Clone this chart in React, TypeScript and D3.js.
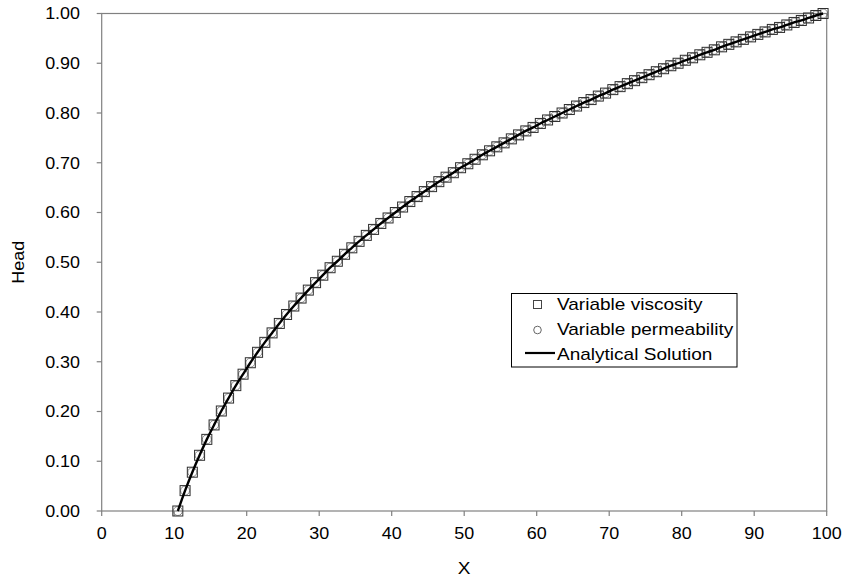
import React from 'react';
import * as d3 from 'd3';

// x of the model cells (cell centres)
const xNodes = [
  10.5, 11.5, 12.5, 13.5, 14.5, 15.5, 16.5, 17.5, 18.5, 19.5,
  20.5, 21.5, 22.5, 23.5, 24.5, 25.5, 26.5, 27.5, 28.5, 29.5,
  30.5, 31.5, 32.5, 33.5, 34.5, 35.5, 36.5, 37.5, 38.5, 39.5,
  40.5, 41.5, 42.5, 43.5, 44.5, 45.5, 46.5, 47.5, 48.5, 49.5,
  50.5, 51.5, 52.5, 53.5, 54.5, 55.5, 56.5, 57.5, 58.5, 59.5,
  60.5, 61.5, 62.5, 63.5, 64.5, 65.5, 66.5, 67.5, 68.5, 69.5,
  70.5, 71.5, 72.5, 73.5, 74.5, 75.5, 76.5, 77.5, 78.5, 79.5,
  80.5, 81.5, 82.5, 83.5, 84.5, 85.5, 86.5, 87.5, 88.5, 89.5,
  90.5, 91.5, 92.5, 93.5, 94.5, 95.5, 96.5, 97.5, 98.5, 99.5,
];

// head, variable viscosity (squares)
const headViscosity = [
  0.000, 0.041, 0.078, 0.112, 0.144, 0.173, 0.201, 0.227, 0.252, 0.275,
  0.298, 0.319, 0.339, 0.358, 0.377, 0.395, 0.412, 0.428, 0.444, 0.459,
  0.474, 0.489, 0.502, 0.516, 0.529, 0.542, 0.554, 0.566, 0.578, 0.589,
  0.600, 0.611, 0.622, 0.632, 0.642, 0.652, 0.662, 0.671, 0.680, 0.690,
  0.698, 0.707, 0.716, 0.724, 0.732, 0.740, 0.748, 0.756, 0.764, 0.771,
  0.779, 0.786, 0.793, 0.800, 0.807, 0.814, 0.821, 0.827, 0.834, 0.840,
  0.847, 0.853, 0.859, 0.865, 0.871, 0.877, 0.883, 0.889, 0.895, 0.900,
  0.906, 0.911, 0.917, 0.922, 0.927, 0.933, 0.938, 0.943, 0.948, 0.953,
  0.958, 0.963, 0.968, 0.972, 0.977, 0.982, 0.986, 0.991, 0.996, 1.000,
];

// head, variable permeability (circles)
const headPermeability = [
  0.000, 0.041, 0.078, 0.112, 0.144, 0.173, 0.201, 0.227, 0.252, 0.275,
  0.298, 0.319, 0.339, 0.358, 0.377, 0.395, 0.412, 0.428, 0.444, 0.459,
  0.474, 0.489, 0.502, 0.516, 0.529, 0.542, 0.554, 0.566, 0.578, 0.589,
  0.600, 0.611, 0.622, 0.632, 0.642, 0.652, 0.662, 0.671, 0.680, 0.690,
  0.698, 0.707, 0.716, 0.724, 0.732, 0.740, 0.748, 0.756, 0.764, 0.771,
  0.779, 0.786, 0.793, 0.800, 0.807, 0.814, 0.821, 0.827, 0.834, 0.840,
  0.847, 0.853, 0.859, 0.865, 0.871, 0.877, 0.883, 0.889, 0.895, 0.900,
  0.906, 0.911, 0.917, 0.922, 0.927, 0.933, 0.938, 0.943, 0.948, 0.953,
  0.958, 0.963, 0.968, 0.972, 0.977, 0.982, 0.986, 0.991, 0.996, 1.000,
];

// analytical solution at the same cells
const headAnalytical = [
  0.000, 0.041, 0.078, 0.112, 0.144, 0.173, 0.201, 0.227, 0.252, 0.275,
  0.298, 0.319, 0.339, 0.358, 0.377, 0.395, 0.412, 0.428, 0.444, 0.459,
  0.474, 0.489, 0.502, 0.516, 0.529, 0.542, 0.554, 0.566, 0.578, 0.589,
  0.600, 0.611, 0.622, 0.632, 0.642, 0.652, 0.662, 0.671, 0.680, 0.690,
  0.698, 0.707, 0.716, 0.724, 0.732, 0.740, 0.748, 0.756, 0.764, 0.771,
  0.779, 0.786, 0.793, 0.800, 0.807, 0.814, 0.821, 0.827, 0.834, 0.840,
  0.847, 0.853, 0.859, 0.865, 0.871, 0.877, 0.883, 0.889, 0.895, 0.900,
  0.906, 0.911, 0.917, 0.922, 0.927, 0.933, 0.938, 0.943, 0.948, 0.953,
  0.958, 0.963, 0.968, 0.972, 0.977, 0.982, 0.986, 0.991, 0.996, 1.000,
];

const xTicks = [0, 10, 20, 30, 40, 50, 60, 70, 80, 90, 100];
const yTicks = [0, 0.1, 0.2, 0.3, 0.4, 0.5, 0.6, 0.7, 0.8, 0.9, 1.0];
const legendLabels = ['Variable viscosity', 'Variable permeability', 'Analytical Solution'];

const W = 843, H = 578;
const m = { left: 101.7, right: 16.3, top: 13.5, bottom: 67 };
const font = '"Liberation Sans", Arial, sans-serif';
const axisGray = '#808080';
const sx = 1.12; // the original lettering is a little wide

export default function App() {
  const x = d3.scaleLinear().domain([0, 100]).range([m.left, W - m.right]);
  const y = d3.scaleLinear().domain([0, 1]).range([H - m.bottom, m.top]);

  const line = d3.line<number>()
    .x((d, i) => x(xNodes[i]))
    .y(d => y(d))
    .curve(d3.curveMonotoneX);

  const sq = 10;
  const lx = 511.5, ly = 293.5;

  return (
    <svg width={W} height={H} style={{ position: 'absolute', left: 0, top: 0, background: '#fff' }}
      fontFamily={font}>
      {/* frame */}
      <rect x={x(0)} y={y(1)} width={x(100) - x(0)} height={y(0) - y(1)}
        fill="none" stroke={axisGray} strokeWidth={1.2} />
      {yTicks.map(t => (
        <g key={'y' + t}>
          <line x1={x(0) - 5} x2={x(0)} y1={y(t)} y2={y(t)} stroke={axisGray} strokeWidth={1.2} />
          <text transform={`translate(80,${y(t)}) scale(${sx},1)`} dy="0.36em" textAnchor="end" fontSize={16}>
            {d3.format('.2f')(t)}
          </text>
        </g>
      ))}
      {xTicks.map(t => (
        <g key={'x' + t}>
          <line x1={x(t)} x2={x(t)} y1={y(0)} y2={y(0) + 5} stroke={axisGray} strokeWidth={1.2} />
          <text transform={`translate(${x(t)},${y(0) + 28}) scale(${sx},1)`} textAnchor="middle" fontSize={16}>{t}</text>
        </g>
      ))}
      <text transform={`translate(${(x(0) + x(100)) / 2},574) scale(${sx},1)`} textAnchor="middle" fontSize={17}>X</text>
      <text transform={`translate(24,${(y(0) + y(1)) / 2}) rotate(-90) scale(${sx},1)`} textAnchor="middle" fontSize={16}>Head</text>

      {headPermeability.map((v, i) => (
        <circle key={'c' + i} cx={x(xNodes[i])} cy={y(v)} r={4.5}
          fill="none" stroke="#8c8c8c" strokeWidth={1} />
      ))}
      {headViscosity.map((v, i) => (
        <rect key={'s' + i} x={x(xNodes[i]) - sq / 2} y={y(v) - sq / 2} width={sq} height={sq}
          fill="none" stroke="#2e2e2e" strokeWidth={1} />
      ))}
      <path d={line(headAnalytical) || ''} fill="none" stroke="#000" strokeWidth={2.4} />

      {/* legend */}
      <rect x={lx} y={ly} width={225.5} height={73.5} fill="#fff" stroke="#000" strokeWidth={1} />
      <rect x={533.5} y={300.5} width={8} height={8} fill="none" stroke="#444" />
      <circle cx={537.5} cy={330} r={3.8} fill="none" stroke="#666" />
      <line x1={525} x2={555} y1={353} y2={353} stroke="#000" strokeWidth={2.2} />
      {legendLabels.map((l, i) => (
        <text key={l} transform={`translate(557,${310 + i * 25}) scale(${sx},1)`} fontSize={17}>{l}</text>
      ))}
    </svg>
  );
}
